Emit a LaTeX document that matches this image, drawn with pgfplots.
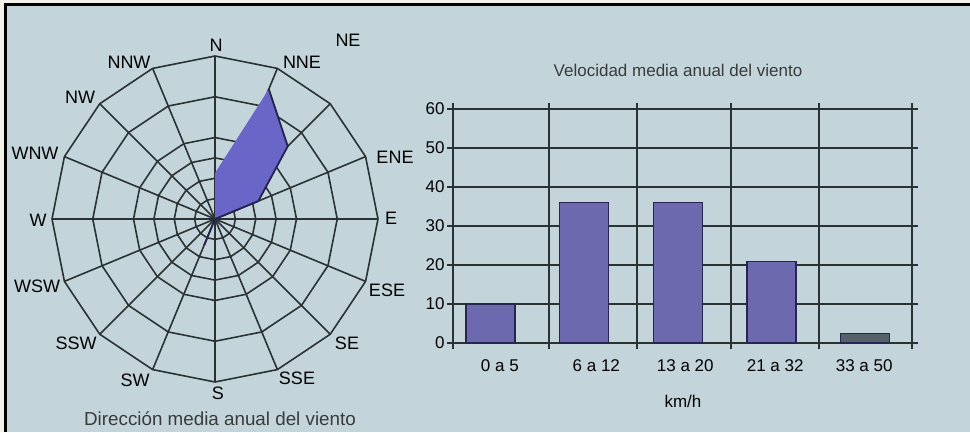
\documentclass[border=0pt]{standalone}
\usepackage{fontspec}
\setmainfont{Liberation Sans}
\usepackage{pgfplots}
\pgfplotsset{compat=1.18}

\definecolor{bg}{HTML}{C3D5DB}
\definecolor{paper}{HTML}{F2F2EA}
\definecolor{gridc}{HTML}{2A3234}
\definecolor{rosefill}{HTML}{6A66C8}
\definecolor{roseedge}{HTML}{23234E}
\definecolor{barfill}{HTML}{6C69AE}
\definecolor{baredge}{HTML}{262650}
\definecolor{lastbar}{HTML}{56626A}
\definecolor{titlec}{HTML}{3A3A3A}

\newcommand\lf{\fontsize{17}{20}\selectfont}
\newcommand\df{\fontsize{18}{21}\selectfont}

\begin{document}
\begin{tikzpicture}[
    lab/.style={font=\df, inner sep=0pt, text height=12.9pt, text depth=0pt, anchor=center}]
% frame and background
\fill[paper] (0pt,0pt) rectangle (970pt,432pt);
\fill[black] (4pt,0pt) rectangle (970pt,429pt);
\fill[bg] (7pt,0pt) rectangle (970pt,426pt);

% ---- wind rose ----
\begin{axis}[at={(52pt,50pt)}, anchor=south west, scale only axis,
    width=326pt, height=326pt,
    xmin=-8, xmax=8, ymin=-8, ymax=8,
    hide axis, clip=false, no markers]
\pgfplotsinvokeforeach{1,2,3,4,6,8}{
  \addplot[gridc, line width=1.6pt, data cs=polar] coordinates {
    (0,#1) (22.5,#1) (45,#1) (67.5,#1) (90,#1) (112.5,#1) (135,#1) (157.5,#1)
    (180,#1) (202.5,#1) (225,#1) (247.5,#1) (270,#1) (292.5,#1) (315,#1) (337.5,#1) (360,#1)};
}
\pgfplotsinvokeforeach{22.5,45,67.5,90,112.5,135,157.5,202.5,225,247.5,270,292.5,315,337.5}{
  \addplot[gridc, line width=1.6pt, data cs=polar] coordinates {(0,0) (#1,8)};
}
\addplot[gridc, line width=2.2pt, data cs=polar] coordinates {(180,8) (0,8)};
% frequencies by direction (N, NNE, NE, ENE, ..., SSW)
\addplot[fill=rosefill, draw=none, data cs=polar] coordinates {
  (90,2.25) (67.5,6.9) (45,5.05) (22.5,2.3) (0,0) (247.5,1.4) (0,0) (90,2.25)};
\addplot[roseedge, line width=1.8pt, data cs=polar] coordinates {
  (67.5,6.9) (45,5.05) (22.5,2.3) (0,0) (247.5,1.4)};
\end{axis}

\node[lab] at (216pt,387pt) {N};
\node[lab] at (302pt,370pt) {NNE};
\node[lab] at (348pt,392pt) {NE};
\node[lab] at (395pt,275pt) {ENE};
\node[lab] at (391pt,214pt) {E};
\node[lab] at (387pt,142pt) {ESE};
\node[lab] at (347pt,89pt) {SE};
\node[lab] at (297pt,54pt) {SSE};
\node[lab] at (218pt,39pt) {S};
\node[lab] at (135pt,52pt) {SW};
\node[lab] at (76pt,89pt) {SSW};
\node[lab] at (37pt,146pt) {WSW};
\node[lab] at (38pt,212pt) {W};
\node[lab] at (35pt,279pt) {WNW};
\node[lab] at (80pt,335pt) {NW};
\node[lab] at (129pt,370pt) {NNW};
\node[font=\fontsize{18.8}{22}\selectfont, text=titlec, anchor=base, inner sep=0pt] at (220pt,7pt) {Dirección media anual del viento};

% ---- speed bars ----
\begin{axis}[at={(453pt,89pt)}, anchor=south west, scale only axis,
    width=459pt, height=234pt,
    xmin=-0.4, xmax=4.5, ymin=0, ymax=60,
    ytick={0,10,20,30,40,50,60},
    xtick={-0.4,0.625,1.565,2.57,3.505,4.5},
    xticklabel=\empty,
    extra x ticks={0.1,1.13,2.08,3.04,3.99},
    extra x tick labels={0 a 5, 6 a 12, 13 a 20, 21 a 32, 33 a 50},
    extra x tick style={grid=none, major tick length=0pt, tick style={draw=none}},
    xmajorgrids, ymajorgrids,
    grid style={gridc, line width=1.6pt},
    axis line style={gridc, line width=1.6pt},
    tick style={gridc, line width=1.6pt},
    tick align=outside, major tick length=6pt,
    ticklabel style={font=\lf},
    xticklabel style={yshift=-13pt},
    yticklabel style={xshift=1pt},
    /pgf/number format/assume math mode=true,
    no markers]
\addplot[ybar, bar shift=0pt, bar width=0.523, fill=barfill, draw=baredge, line width=1.2pt]
  coordinates {(0,10) (1,36) (2,36) (3,21)};
\addplot[ybar, bar shift=0pt, bar width=0.523, fill=lastbar, draw=baredge, line width=1.2pt]
  coordinates {(4,2.5)};
\end{axis}

\node[font=\lf, text=titlec, anchor=base, inner sep=0pt] at (678pt,355pt) {Velocidad media anual del viento};
\node[font=\lf, anchor=base, inner sep=0pt] at (683pt,25pt) {km/h};
\end{tikzpicture}
\end{document}
